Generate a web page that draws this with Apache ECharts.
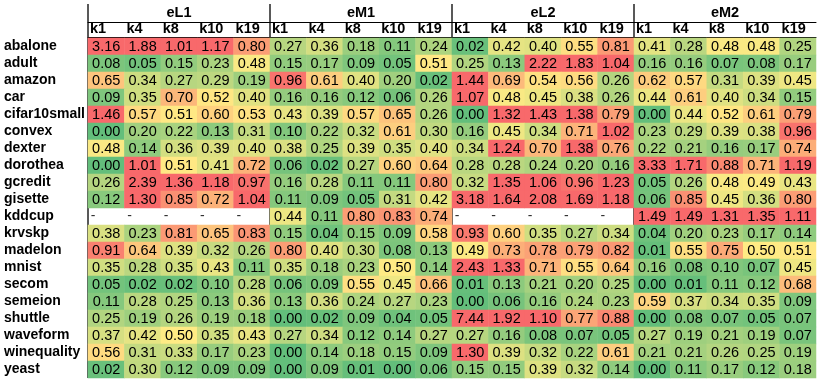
<!DOCTYPE html>
<html>
<head>
<meta charset="utf-8">
<script src="https://cdn.jsdelivr.net/npm/echarts@6/dist/echarts.min.js"></script>
<style>
html,body{margin:0;padding:0;background:#fff;}
#chart{width:823px;height:384px;}
</style>
</head>
<body>
<div id="chart"></div>
<script>
const datasets = ['abalone','adult','amazon','car','cifar10small','convex','dexter','dorothea','gcredit','gisette','kddcup','krvskp','madelon','mnist','secom','semeion','shuttle','waveform','winequality','yeast'];
const groups = ['eL1','eM1','eL2','eM2'];
const kLabels = ['k1','k4','k8','k10','k19'];

const eL1 = [
  [3.16,1.88,1.01,1.17,0.80],
  [0.08,0.05,0.15,0.23,0.48],
  [0.65,0.34,0.27,0.29,0.19],
  [0.09,0.35,0.70,0.52,0.40],
  [1.46,0.57,0.51,0.60,0.53],
  [0.00,0.20,0.22,0.13,0.31],
  [0.48,0.14,0.36,0.39,0.40],
  [0.00,1.01,0.51,0.41,0.72],
  [0.26,2.39,1.36,1.18,0.97],
  [0.12,1.30,0.85,0.72,1.04],
  [null,null,null,null,null],
  [0.38,0.23,0.81,0.65,0.83],
  [0.91,0.64,0.39,0.32,0.26],
  [0.35,0.28,0.35,0.43,0.11],
  [0.05,0.02,0.02,0.10,0.28],
  [0.11,0.28,0.25,0.13,0.36],
  [0.25,0.19,0.26,0.19,0.18],
  [0.37,0.42,0.50,0.35,0.43],
  [0.56,0.31,0.33,0.17,0.23],
  [0.02,0.30,0.12,0.09,0.09]
];
const eM1 = [
  [0.27,0.36,0.18,0.11,0.24],
  [0.15,0.17,0.09,0.05,0.51],
  [0.96,0.61,0.40,0.20,0.02],
  [0.16,0.16,0.12,0.06,0.26],
  [0.43,0.39,0.57,0.65,0.26],
  [0.10,0.22,0.32,0.61,0.30],
  [0.38,0.25,0.39,0.35,0.40],
  [0.06,0.02,0.27,0.60,0.64],
  [0.16,0.28,0.11,0.11,0.80],
  [0.11,0.09,0.05,0.31,0.42],
  [0.44,0.11,0.80,0.83,0.74],
  [0.15,0.04,0.15,0.09,0.58],
  [0.80,0.40,0.30,0.08,0.13],
  [0.35,0.18,0.23,0.50,0.14],
  [0.06,0.09,0.55,0.45,0.66],
  [0.13,0.36,0.24,0.27,0.23],
  [0.00,0.02,0.09,0.04,0.05],
  [0.27,0.34,0.12,0.14,0.27],
  [0.00,0.14,0.18,0.15,0.09],
  [0.00,0.09,0.01,0.00,0.06]
];
const eL2 = [
  [0.02,0.42,0.40,0.55,0.81],
  [0.25,0.13,2.22,1.83,1.04],
  [1.44,0.69,0.54,0.56,0.26],
  [1.07,0.48,0.45,0.38,0.26],
  [0.00,1.32,1.43,1.38,0.79],
  [0.16,0.45,0.34,0.71,1.02],
  [0.34,1.24,0.70,1.38,0.76],
  [0.28,0.28,0.24,0.20,0.16],
  [0.32,1.35,1.06,0.96,1.23],
  [3.18,1.64,2.08,1.69,1.18],
  [null,null,null,null,null],
  [0.93,0.60,0.35,0.27,0.34],
  [0.49,0.73,0.78,0.79,0.82],
  [2.43,1.33,0.71,0.55,0.64],
  [0.01,0.13,0.21,0.20,0.25],
  [0.00,0.06,0.16,0.24,0.23],
  [7.44,1.92,1.10,0.77,0.88],
  [0.27,0.16,0.08,0.07,0.05],
  [1.30,0.39,0.32,0.22,0.61],
  [0.15,0.15,0.39,0.32,0.14]
];
const eM2 = [
  [0.41,0.28,0.48,0.48,0.25],
  [0.16,0.16,0.07,0.08,0.17],
  [0.62,0.57,0.31,0.39,0.45],
  [0.44,0.61,0.40,0.34,0.15],
  [0.00,0.44,0.52,0.61,0.79],
  [0.23,0.29,0.39,0.38,0.96],
  [0.22,0.21,0.16,0.17,0.74],
  [3.33,1.71,0.88,0.71,1.19],
  [0.05,0.26,0.48,0.49,0.43],
  [0.06,0.85,0.45,0.36,0.80],
  [1.49,1.49,1.31,1.35,1.11],
  [0.04,0.20,0.23,0.17,0.14],
  [0.01,0.55,0.75,0.50,0.51],
  [0.16,0.08,0.10,0.07,0.45],
  [0.00,0.01,0.11,0.12,0.68],
  [0.59,0.37,0.34,0.35,0.09],
  [0.00,0.08,0.07,0.05,0.07],
  [0.27,0.19,0.21,0.19,0.07],
  [0.21,0.21,0.26,0.25,0.19],
  [0.00,0.11,0.17,0.12,0.18]
];

const groupData = [eL1, eM1, eL2, eM2];
const headerRows = ['', ' '];
const yCats = headerRows.concat(datasets);
const xCats = [];
groups.forEach(g => kLabels.forEach(k => xCats.push(g + '-' + k)));

const cells = [];
const missing = [];
groupData.forEach((g, gi) => {
  g.forEach((row, ri) => {
    row.forEach((v, ki) => {
      const x = gi * kLabels.length + ki;
      const y = ri + headerRows.length;
      if (v === null) missing.push([x, y]);
      else cells.push([x, y, v]);
    });
  });
});

const FONT = 'Liberation Sans';
const chart = echarts.init(document.getElementById('chart'), null, {renderer: 'canvas'});
chart.setOption({
  animation: false,
  backgroundColor: '#ffffff',
  grid: {left: 88, right: 7, top: 4, bottom: 6, containLabel: false},
  xAxis: [
    {type: 'category', data: xCats, show: false},
    {type: 'value', min: 0, max: 20, interval: 5, position: 'top',
      axisLine: {show: false}, axisTick: {show: false}, axisLabel: {show: false},
      splitLine: {show: true, showMinLine: true, showMaxLine: false, lineStyle: {color: '#222', width: 1.5}}},
    {type: 'value', min: 0, max: 20, interval: 1, position: 'top', offset: -33,
      axisLine: {show: true, lineStyle: {color: '#000', width: 1}},
      axisTick: {show: false}, splitLine: {show: false},
      axisLabel: {show: true, align: 'left', margin: 1, padding: [0,0,0,2], color: '#000',
        fontFamily: FONT, fontSize: 14.5, fontWeight: 'bold', showMaxLabel: false,
        formatter: v => { const i = Math.round(v); return i < 20 ? kLabels[i % kLabels.length] : ''; }}},
    {type: 'category', data: groups, position: 'top', offset: -18,
      axisLine: {show: true, lineStyle: {color: '#000', width: 1}},
      axisTick: {show: false}, splitLine: {show: false},
      axisLabel: {show: true, margin: 2, color: '#000', fontFamily: FONT, fontSize: 14.5, fontWeight: 'bold'}}
  ],
  yAxis: {
    type: 'category', data: yCats, inverse: true,
    axisLine: {show: false}, axisTick: {show: false}, splitLine: {show: false},
    axisLabel: {interval: 0, align: 'left', margin: 84, color: '#000', fontFamily: FONT, fontSize: 14, fontWeight: 'bold'}
  },
  visualMap: {
    show: false, type: 'continuous', seriesIndex: 0, dimension: 2, min: 0, max: 1,
    inRange: {color: ['#63BE7B', '#FFEB84', '#F8696B']}
  },
  series: [
    {type: 'heatmap', xAxisIndex: 0, yAxisIndex: 0, data: cells,
      label: {show: true, color: '#000', fontFamily: FONT, fontSize: 14.5,
        formatter: p => p.value[2].toFixed(2)},
      emphasis: {disabled: true}},
    {type: 'scatter', xAxisIndex: 0, yAxisIndex: 0, data: missing, symbol: 'rect', symbolSize: 1,
      itemStyle: {color: 'rgba(0,0,0,0)'}, silent: true,
      label: {show: true, formatter: '-', position: 'inside', offset: [-13, 0], color: '#000', fontFamily: FONT, fontSize: 14}}
  ]
});
</script>
</body>
</html>
